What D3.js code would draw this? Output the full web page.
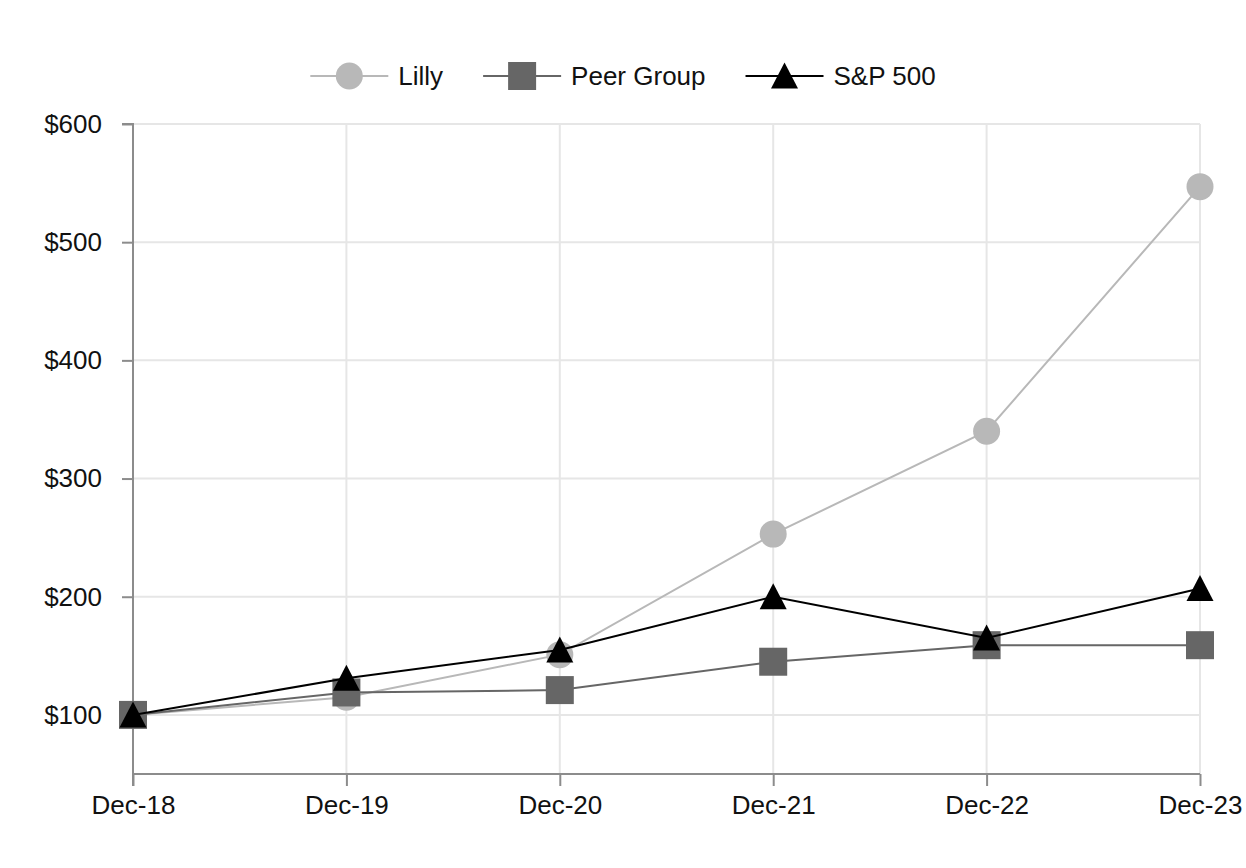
<!DOCTYPE html>
<html><head><meta charset="utf-8">
<script src="https://cdn.jsdelivr.net/npm/d3@7"></script>
<style>
html,body{margin:0;padding:0;background:#fff;}
text{font-family:"Liberation Sans",Arial,sans-serif;}
</style></head>
<body><svg id="chart" width="1246" height="868"></svg>
<script>
const categories = ["Dec-18","Dec-19","Dec-20","Dec-21","Dec-22","Dec-23"];
const lillyValues = [100, 115, 151, 253, 340, 547];
const peerValues = [100, 119, 121, 145, 159, 159];
const spValues = [100, 131, 155, 200, 165, 207];
const yTicks = [100, 200, 300, 400, 500, 600];
const seriesNames = ["Lilly", "Peer Group", "S&P 500"];

(function(){
const series = [
  {name: seriesNames[0], values: lillyValues, color: "#b8b8b8", marker: "circle"},
  {name: seriesNames[1], values: peerValues, color: "#666666", marker: "square"},
  {name: seriesNames[2], values: spValues, color: "#000000", marker: "triangle"}
];

const svg = d3.select("#chart");
const pLeft = 133, pRight = 1200, pTop = 124, pBottom = 774;
const x = d3.scalePoint().domain(categories).range([pLeft, pRight]);
const y = d3.scaleLinear().domain([50, 600]).range([pBottom, pTop]);
const fs = "26px";

// gridlines
const g = svg.append("g");
g.selectAll("line.hg").data(yTicks).join("line")
  .attr("x1", pLeft).attr("x2", pRight)
  .attr("y1", d => y(d)).attr("y2", d => y(d))
  .attr("stroke", "#e6e6e6").attr("stroke-width", 2);
g.selectAll("line.vg").data(categories.slice(1)).join("line")
  .attr("x1", d => x(d)).attr("x2", d => x(d))
  .attr("y1", pTop).attr("y2", pBottom)
  .attr("stroke", "#e6e6e6").attr("stroke-width", 2);

// axes
const yAxis = svg.append("g").attr("transform", `translate(${pLeft},0)`)
  .call(d3.axisLeft(y).tickValues(yTicks).tickSize(11).tickPadding(20).tickFormat(d => "$" + d));
const xAxis = svg.append("g").attr("transform", `translate(0,${pBottom})`)
  .call(d3.axisBottom(x).tickSize(12).tickPadding(10));
[yAxis, xAxis].forEach(a => {
  a.select(".domain").attr("stroke", "#8c8c8c").attr("stroke-width", 2);
  a.selectAll(".tick line").attr("stroke", "#8c8c8c").attr("stroke-width", 2);
  a.selectAll(".tick text").attr("fill", "#111").style("font-size", fs)
    .style("font-family", '"Liberation Sans", Arial, sans-serif');
});
yAxis.select(".domain").attr("d", `M-11,${y(600)}H0V${pBottom + 12}`);
xAxis.select(".domain").attr("d", `M${pLeft},0H${pRight}`);

function drawMarker(sel, type, color) {
  if (type === "circle") {
    sel.append("circle").attr("r", 13.5).attr("fill", color);
  } else if (type === "square") {
    sel.append("rect").attr("x", -14).attr("y", -14).attr("width", 28).attr("height", 28).attr("fill", color);
  } else {
    sel.append("path").attr("d", "M0,-13.5L13.5,12.5L-13.5,12.5Z").attr("fill", color);
  }
}

const line = d3.line().x((d, i) => x(categories[i])).y(d => y(d));
series.forEach(s => {
  const sg = svg.append("g");
  sg.append("path").attr("d", line(s.values)).attr("fill", "none")
    .attr("stroke", s.color).attr("stroke-width", 2);
  s.values.forEach((v, i) => {
    const m = sg.append("g").attr("transform", `translate(${x(categories[i])},${y(v)})`);
    drawMarker(m, s.marker, s.color);
  });
});

// legend
const legend = svg.append("g");
const ly = 76;
let cx = 0;
series.forEach(s => {
  const it = legend.append("g").attr("transform", `translate(${cx},0)`);
  it.append("line").attr("x1", 0).attr("x2", 78).attr("y1", ly).attr("y2", ly)
    .attr("stroke", s.color).attr("stroke-width", 2);
  const m = it.append("g").attr("transform", `translate(39,${ly})`);
  drawMarker(m, s.marker, s.color);
  const t = it.append("text").attr("x", 88).attr("y", ly).attr("dy", "0.35em")
    .attr("fill", "#111").style("font-size", fs).text(s.name);
  const w = 88 + t.node().getComputedTextLength();
  cx += w + 40;
});
const total = cx - 40;
legend.attr("transform", `translate(${(1246 - total) / 2},0)`);
})();
</script></body></html>
